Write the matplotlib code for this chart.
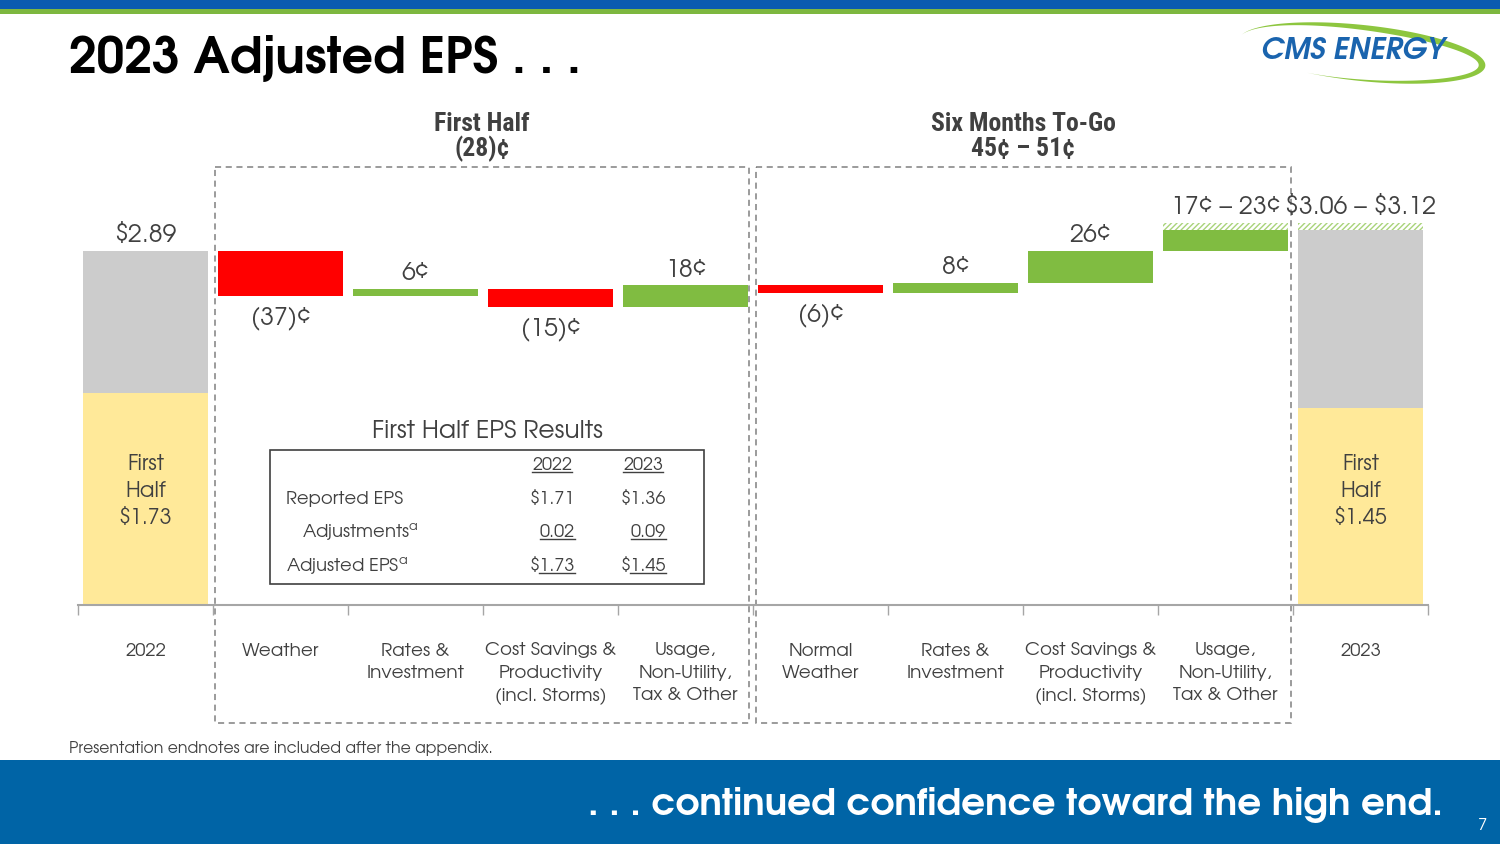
import matplotlib
matplotlib.use("Agg")
import matplotlib.pyplot as plt
from matplotlib.patches import Rectangle, Polygon
import numpy as np

# ---------------- data ----------------
categories = ['2022', 'Weather', 'Rates &\nInvestment',
              'Cost Savings &\nProductivity\n(incl. Storms)',
              'Usage,\nNon-Utility,\nTax & Other',
              'Normal\nWeather', 'Rates &\nInvestment',
              'Cost Savings &\nProductivity\n(incl. Storms)',
              'Usage,\nNon-Utility,\nTax & Other', '2023']
start_eps = 2.89
changes_low = [-0.37, 0.06, -0.15, 0.18, -0.06, 0.08, 0.26, 0.17]
last_change_high = 0.23
end_low = 3.06
end_high = 3.12
first_half_bar = [1.73, 1.61]          # yellow bar heights as drawn
first_half_text = ['First\nHalf\n$1.73', 'First\nHalf\n$1.45']
value_labels = ['$2.89', '(37)¢', '6¢', '(15)¢', '18¢', '(6)¢', '8¢', '26¢',
                '17¢ – 23¢', '$3.06 – $3.12']
group_titles = [('First Half', '(28)¢'), ('Six Months To-Go', '45¢ – 51¢')]

table_title = 'First Half EPS Results'
table_years = ['2022', '2023']
table_rows = ['Reported EPS', 'Adjustments', 'Adjusted EPS']
table_2022 = ['$1.71', '0.02', '$1.73']
table_2023 = ['$1.36', '0.09', '$1.45']

# ---------------- style ----------------
GOTHIC = ['TeX Gyre Adventor', 'DejaVu Sans']
COND = ['Roboto Condensed', 'DejaVu Sans']
plt.rcParams['mathtext.fontset'] = 'custom'
plt.rcParams['mathtext.rm'] = 'TeX Gyre Adventor'
plt.rcParams['mathtext.it'] = 'TeX Gyre Adventor'
plt.rcParams['hatch.linewidth'] = 1.0

GRAY_TXT = '#404040'
BAR_GRAY = '#CCCCCC'
YELLOW = '#FFE999'
RED = '#FF0000'
GREEN = '#80BC41'
BLUE_TOP = '#0A5BB0'
GREEN_TOP = '#7DB73F'
BAND = '#0064A6'

W, H = 1500, 844
fig = plt.figure(figsize=(15, 8.44), dpi=100)
fig.patch.set_facecolor('white')

# overlay in pixel coordinates
ov = fig.add_axes([0, 0, 1, 1], zorder=0)
ov.set_xlim(0, W)
ov.set_ylim(H, 0)
ov.axis('off')

ov.add_patch(Rectangle((0, 0), W, 9, color=BLUE_TOP, lw=0))
ov.add_patch(Rectangle((0, 9), W, 5, color=GREEN_TOP, lw=0))
ov.add_patch(Rectangle((0, 760), W, 84, color=BAND, lw=0))

ov.text(69, 58, '2023 Adjusted EPS . . .', fontsize=35.5, fontweight='bold',
        family=GOTHIC, color='black', va='center', ha='left')

# logo
cx, cy, a, b, phi = 1362, 53, 124, 28, np.deg2rad(-6)
th = np.linspace(np.deg2rad(168), np.deg2rad(-115), 200)
wth = 7 * np.sin(np.linspace(0, np.pi, 200)) ** 1.2
def ell(aa, bb, t):
    X = aa * np.cos(t); Y = bb * np.sin(t)
    Xr = X * np.cos(phi) - Y * np.sin(phi)
    Yr = X * np.sin(phi) + Y * np.cos(phi)
    return cx + Xr, cy - Yr
ox, oy = ell(a, b, th)
ix, iy = ell(a - wth, b - wth, th)
ov.add_patch(Polygon(np.column_stack([np.r_[ox, ix[::-1]], np.r_[oy, iy[::-1]]]),
                     closed=True, color='#8DC63F', lw=0))
ov.text(1353, 51, 'CMS ENERGY', fontsize=21, fontweight='bold', style='italic',
        color='#1A64AE', ha='center', va='center', family=GOTHIC)

# dashed group boxes
for x0, x1 in [(215, 749), (756, 1291)]:
    ov.add_patch(Rectangle((x0, 167), x1 - x0, 723 - 167, fill=False,
                           ec='#808080', lw=1.1, ls=(0, (4, 3)), zorder=1))
for xc, (t1, t2) in zip([482, 1023], group_titles):
    ov.text(xc, 124, t1, fontsize=18.5, fontweight='bold', color=GRAY_TXT,
            ha='center', va='center', family=COND)
    ov.text(xc, 149, t2, fontsize=18.5, fontweight='bold', color=GRAY_TXT,
            ha='center', va='center', family=COND)

# footnote / band text
ov.text(69, 749, 'Presentation endnotes are included after the appendix.',
        fontsize=11.3, color=GRAY_TXT, va='center', ha='left', family=GOTHIC)
ov.text(1443, 805, '. . . continued confidence toward the high end.',
        fontsize=27, fontweight='bold', color='white', ha='right', va='center',
        family=GOTHIC)
ov.text(1483, 826, '7', fontsize=12, color='white', ha='center', va='center',
        family=GOTHIC)

# ---------------- chart axes ----------------
x_left, x_right = 78, 1428
y_base, y_top = 605, 167
px_per_unit = 122.5
ax = fig.add_axes([x_left / W, 1 - y_base / H, (x_right - x_left) / W,
                   (y_base - y_top) / H], zorder=2)
ax.patch.set_alpha(0)
ax.set_xlim(-0.5, len(categories) - 0.5)
ax.set_ylim(0, (y_base - y_top) / px_per_unit)

x = np.arange(len(categories))
bw = 0.92

# start bar
ax.bar(x[0], start_eps, bw, color=BAR_GRAY, lw=0)
ax.bar(x[0], first_half_bar[0], bw, color=YELLOW, lw=0)

level = start_eps
tops = [start_eps]
bottoms = [0]
for i, c in enumerate(changes_low):
    xi = x[i + 1]
    lo, hi = min(level, level + c), max(level, level + c)
    ax.bar(xi, hi - lo, bw, bottom=lo, color=RED if c < 0 else GREEN, lw=0)
    tops.append(hi); bottoms.append(lo)
    level += c
# hatched range on last step
ax.bar(x[8], last_change_high - changes_low[-1], bw, bottom=level, color='white',
       edgecolor='#A9D37A', hatch='//////', lw=0)
tops[-1] = level - changes_low[-1] + last_change_high

# end bar
ax.bar(x[9], end_low, bw, color=BAR_GRAY, lw=0)
ax.bar(x[9], first_half_bar[1], bw, color=YELLOW, lw=0)
ax.bar(x[9], end_high - end_low, bw, bottom=end_low, color='white',
       edgecolor='#A9D37A', hatch='//////', lw=0)
tops.append(end_high)
bottoms.append(0)

# value labels
signs = [1] + [1 if c >= 0 else -1 for c in changes_low] + [1]
for i, (lab, s) in enumerate(zip(value_labels, signs)):
    ref = tops[i] if s > 0 else bottoms[i]
    off = 15 if s > 0 else -22
    ax.annotate(lab, (x[i], ref), xytext=(0, off), textcoords='offset pixels',
                ha='center', va='center', fontsize=18, color=GRAY_TXT,
                family=GOTHIC, parse_math=False)

for xi, t in zip([x[0], x[9]], first_half_text):
    ax.text(xi, 0.93, t, ha='center', va='center', fontsize=15.5, color=GRAY_TXT,
            linespacing=1.45, family=GOTHIC, parse_math=False)

# axis styling
for s in ['top', 'right', 'left']:
    ax.spines[s].set_visible(False)
ax.spines['bottom'].set_color('#A6A6A6')
ax.spines['bottom'].set_linewidth(1.5)
ax.set_yticks([])
ax.set_xticks(np.arange(-0.5, len(categories), 1.0))
ax.set_xticklabels([])
ax.tick_params(axis='x', which='major', length=7, color='#A6A6A6', width=1)
ax.set_xticks(x, minor=True)
ax.set_xticklabels(categories, minor=True, fontsize=13.3, color=GRAY_TXT,
                   linespacing=1.5, family=GOTHIC)
ax.tick_params(axis='x', which='minor', length=0, pad=27)
for t in ax.get_xticklabels(minor=True):
    t.set_va('top')

# ---------------- table ----------------
ov.add_patch(Rectangle((270, 450), 434, 134, fill=False, ec=GRAY_TXT, lw=1.2, zorder=3))
ov.text(487, 432, table_title, fontsize=18, color=GRAY_TXT,
        ha='center', va='center', family=GOTHIC)
tf = dict(fontsize=13, color=GRAY_TXT, va='center', family=GOTHIC)
under = []
under.append(ov.text(552, 465, table_years[0], ha='center', **tf))
under.append(ov.text(643, 465, table_years[1], ha='center', **tf))
row_y = [499, 532, 566]
row_x = [286, 302, 286]
sup = ['', '$^{\\mathrm{a}}$', '$^{\\mathrm{a}}$']
for r, (yy, xx) in enumerate(zip(row_y, row_x)):
    ov.text(xx, yy, table_rows[r] + sup[r], ha='left', **tf)
    t1 = ov.text(575, yy, table_2022[r], ha='right', parse_math=False, **tf)
    t2 = ov.text(666, yy, table_2023[r], ha='right', parse_math=False, **tf)
    if r >= 1:
        under += [t1, t2]

fig.canvas.draw()
rend = fig.canvas.get_renderer()
inv = ov.transData.inverted()
for t in under:
    bb = t.get_window_extent(rend)
    (x0, y0), (x1, y1) = inv.transform([(bb.x0, bb.y0), (bb.x1, bb.y1)])
    txt = t.get_text()
    if txt.startswith('$'):
        x0 = x0 + (x1 - x0) * 0.2   # underline only the digits
    yl = max(y0, y1) - 1
    ov.plot([x0, x1], [yl, yl], color=GRAY_TXT, lw=1)

fig.savefig('out.png', dpi=100)
